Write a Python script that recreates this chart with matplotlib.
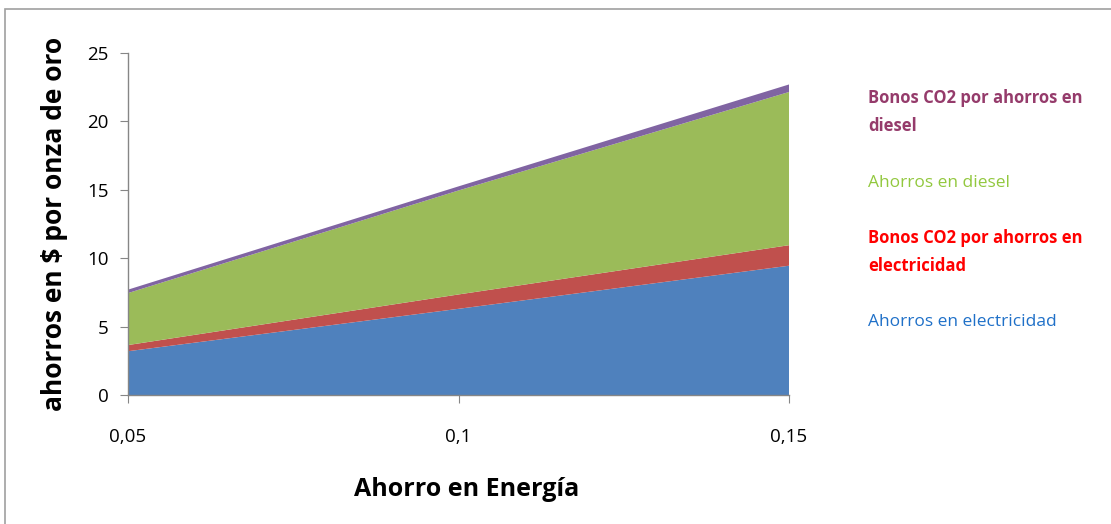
import matplotlib
matplotlib.use("Agg")
import matplotlib.pyplot as plt
from matplotlib.patches import Rectangle

# data
ahorro_energia = [0.05, 0.10, 0.15]
ahorros_electricidad = [3.2, 6.3, 9.45]
bonos_electricidad = [0.45, 1.05, 1.5]
ahorros_diesel = [3.8, 7.6, 11.2]
bonos_diesel = [0.25, 0.3, 0.55]

series_names = ["Ahorros en electricidad", "Bonos CO2 por ahorros en\nelectricidad",
                "Ahorros en diesel", "Bonos CO2 por ahorros en\ndiesel"]
fill_colors = ["#4F81BD", "#C0504D", "#9BBB59", "#8064A2"]
text_colors = ["#1F70C8", "#FF0000", "#92C83E", "#953B6B"]
text_weights = ["normal", "bold", "normal", "bold"]
text_sizes = [12.5, 12, 12.5, 12]

x_ticks = [0.05, 0.10, 0.15]
x_tick_labels = ["0,05", "0,1", "0,15"]
y_ticks = [0, 5, 10, 15, 20, 25]

plt.rcParams['font.family'] = ['Open Sans', 'DejaVu Sans']

fig = plt.figure(figsize=(11.11, 5.24), dpi=100)
ax = fig.add_axes([128 / 1111, 1 - 395 / 524, (789 - 128) / 1111, (395 - 53) / 524])

ax.stackplot(ahorro_energia, ahorros_electricidad, bonos_electricidad, ahorros_diesel,
             bonos_diesel, colors=fill_colors, linewidth=0)

ax.set_xlim(0.05, 0.15)
ax.set_ylim(0, 25)
ax.set_xticks(x_ticks)
ax.set_xticklabels(x_tick_labels)
ax.set_yticks(y_ticks)

for side in ["top", "right"]:
    ax.spines[side].set_visible(False)
for side in ["left", "bottom"]:
    ax.spines[side].set_color("#868686")
    ax.spines[side].set_linewidth(1)
ax.tick_params(axis="y", length=6, color="#868686", labelsize=13.5, pad=8)
ax.tick_params(axis="x", length=6, color="#868686", labelsize=13.5, pad=18)

ax.set_ylabel("ahorros en $ por onza de oro", fontsize=19, fontweight="bold", labelpad=14)
fig.text(467 / 1111, 1 - 490 / 524, "Ahorro en Energía", fontsize=18, fontweight="bold",
         ha="center", va="center")

# side labels instead of a legend box
label_y = [322, 252, 183, 112]
for name, col, wt, sz, ly in zip(series_names, text_colors, text_weights, text_sizes, label_y):
    fig.text(868 / 1111, 1 - ly / 524, name, color=col, fontweight=wt, fontsize=sz,
             ha="left", va="center", linespacing=1.75)

# outer chart frame
fig.patches.append(Rectangle((5 / 1111, -0.01), 1.2, 1 - 9 / 524 + 0.01,
                             transform=fig.transFigure, fill=False,
                             edgecolor="#A0A0A0", linewidth=1.2))

fig.savefig("out.png", dpi=100)
